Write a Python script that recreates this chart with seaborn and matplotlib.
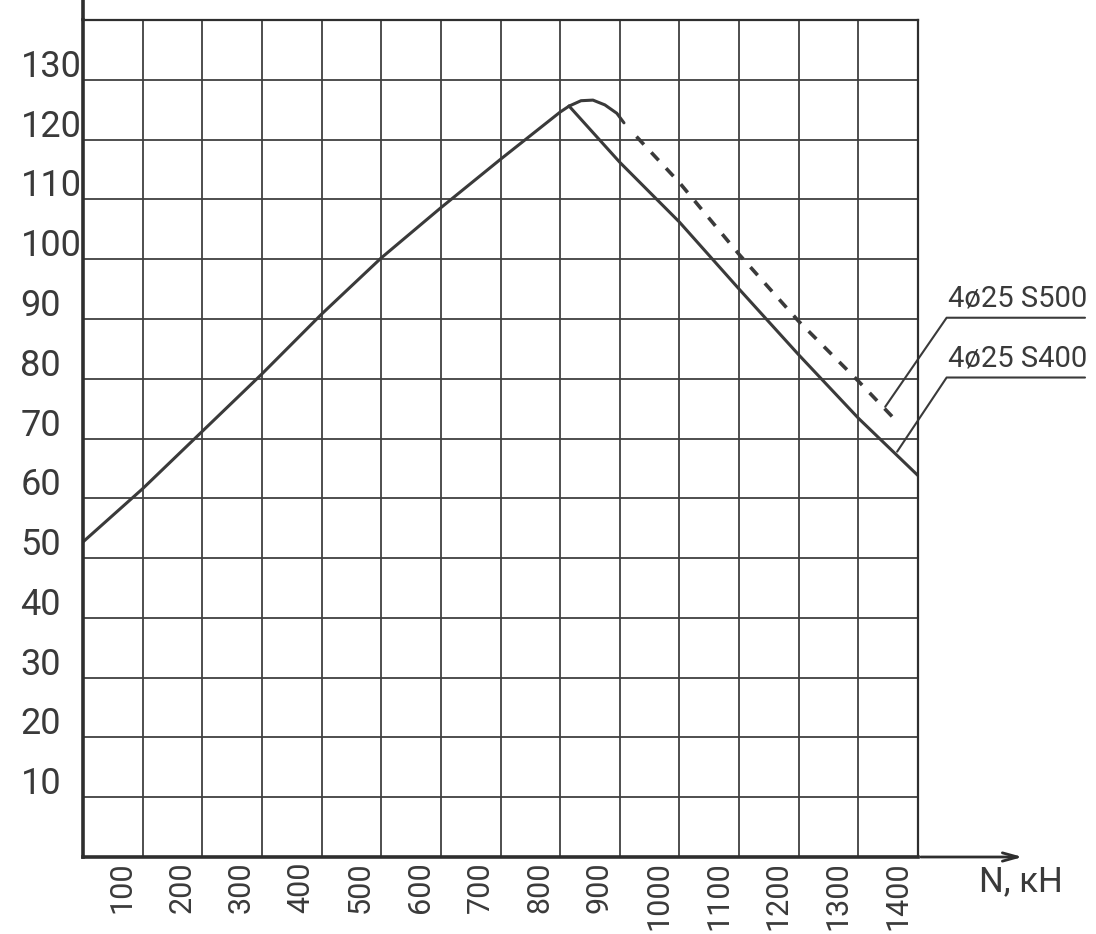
import matplotlib.pyplot as plt
import matplotlib.transforms as mtransforms
import seaborn as sns

# N, kN  ->  value
n_rise = [0, 100, 200, 300, 400, 500, 600, 700, 800, 815]
m_rise = [52.7, 61.6, 71.2, 80.8, 90.8, 100.2, 108.6, 116.7, 124.6, 125.6]

# 4ø25 S400 - solid branch going down from the peak
n_s400 = [815, 900, 1000, 1100, 1200, 1300, 1400]
m_s400 = [125.6, 116.2, 106.2, 95.0, 84.0, 73.4, 63.8]

# 4ø25 S500 - small arc over the peak, then dashed branch
n_arc = [815, 835, 855, 875, 895, 907]
m_arc = [125.6, 126.5, 126.6, 125.8, 124.4, 122.8]

n_s500 = [928, 1000, 1100, 1200, 1300, 1365]
m_s500 = [120.5, 112.8, 100.8, 89.6, 79.6, 72.8]

x_ticks = list(range(0, 1401, 100))
y_ticks = list(range(0, 141, 10))
x_labels = [""] + [str(v) for v in range(100, 1401, 100)]
y_labels = [""] + [str(v) for v in range(10, 131, 10)] + [""]

tags = ["4ø25 S500", "4ø25 S400"]
tag_points = [(1345, 75.3), (1365, 67.8)]

sns.set_theme(style="white")
plt.rcParams["font.family"] = ["Roboto", "DejaVu Sans"]

ink = "#3a3a3a"
fig = plt.figure(figsize=(10.96, 9.34), dpi=100)
ax = fig.add_axes([83 / 1096, 77 / 934, 835 / 1096, 837 / 934])

sns.lineplot(x=n_rise, y=m_rise, sort=False, estimator=None, color=ink, lw=2.2, ax=ax)
sns.lineplot(x=n_s400, y=m_s400, sort=False, estimator=None, color=ink, lw=2.2, ax=ax)
sns.lineplot(x=n_arc, y=m_arc, sort=False, estimator=None, color=ink, lw=2.2, ax=ax)
sns.lineplot(x=n_s500, y=m_s500, sort=False, estimator=None, color=ink, lw=2.6,
             linestyle=(0, (3, 3)), ax=ax)

ax.set_xlim(0, 1400)
ax.set_ylim(0, 140)
ax.set_xticks(x_ticks)
ax.set_yticks(y_ticks)
ax.set_xticklabels(x_labels, rotation=90, ha="right", va="top", fontsize=22, color=ink)
ax.set_yticklabels(y_labels, ha="left", fontsize=26, color=ink)
ax.tick_params(axis="x", length=0, pad=3)
ax.tick_params(axis="y", length=0, pad=45)
ax.grid(True, color="#404040", lw=1.3)
for s in ax.spines.values():
    s.set_color("#2e2e2e")
    s.set_linewidth(1.6)
ax.spines["left"].set_linewidth(2.6)
ax.spines["bottom"].set_linewidth(2.6)
ax.set_xlabel("")
ax.set_ylabel("")

# labels sit a bit before their grid lines, as on the drawing
dy = mtransforms.ScaledTranslation(0, 0.17, fig.dpi_scale_trans)
for lbl in ax.get_yticklabels():
    lbl.set_transform(lbl.get_transform() + dy)
dx = mtransforms.ScaledTranslation(-0.06, 0, fig.dpi_scale_trans)
for lbl in ax.get_xticklabels():
    lbl.set_transform(lbl.get_transform() + dx)

# axis extensions: y-axis runs up past the frame, x-axis ends in an arrow
ax.plot([0, 0], [140, 143.5], color="#2e2e2e", lw=2.6, clip_on=False)
ax.annotate("", xy=(1580, 0), xytext=(1400, 0), annotation_clip=False,
            arrowprops=dict(arrowstyle="->,head_length=0.9,head_width=0.25",
                            color="#2e2e2e", lw=2.0))
ax.text(1572, -4.2, "N, кН", fontsize=25, color=ink, ha="center", va="center")

# leader tags
for i, (tag, (px, py)) in enumerate(zip(tags, tag_points)):
    ty = 90.2 - 10.0 * i
    ax.plot([px, 1448, 1680], [py, ty, ty], color=ink, lw=1.5, clip_on=False)
    ax.text(1451, ty + 0.8, tag, fontsize=21, color=ink, ha="left", va="bottom")

fig.savefig("out.png", dpi=100)
